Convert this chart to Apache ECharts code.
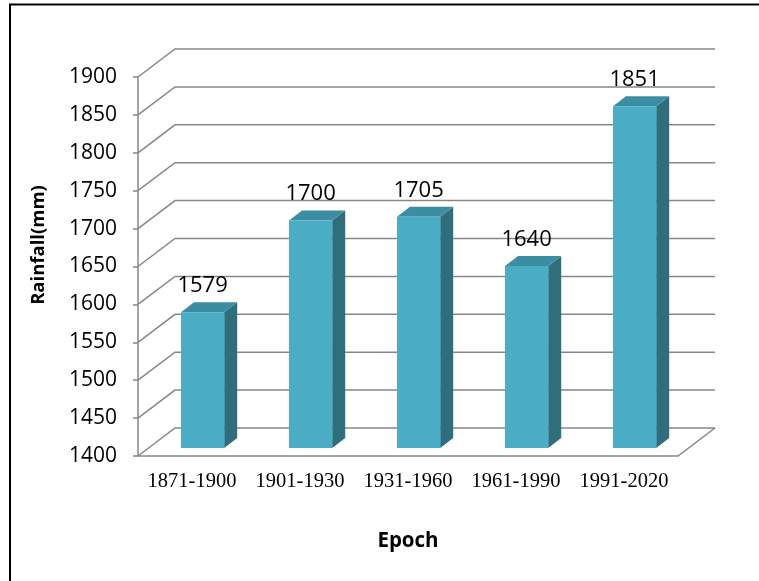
<!DOCTYPE html>
<html>
<head>
<meta charset="utf-8">
<script src="https://cdn.jsdelivr.net/npm/echarts@6/dist/echarts.min.js"></script>
<style>
  html, body { margin: 0; padding: 0; background: #fff; }
  #chart { width: 759px; height: 581px; }
</style>
</head>
<body>
<div id="chart"></div>
<script>
// Mean rainfall per 30-year epoch
const categories = ['1871-1900', '1901-1930', '1931-1960', '1961-1990', '1991-2020'];
const rainfall = [1579, 1700, 1705, 1640, 1851];
const yTicks = [1400, 1450, 1500, 1550, 1600, 1650, 1700, 1750, 1800, 1850, 1900];

const Y_MIN = 1400, Y_MAX = 1900, Y_STEP = 50;

// Oblique 3D projection offsets (pixels)
const WALL_DX = 37, WALL_DY = -28;   // back wall relative to front plane
const ROW_DX = 10.6, ROW_DY = -8;    // bar row relative to front plane
const BAR_DX = 13, BAR_DY = -10;     // bar depth
const BAR_RATIO = 0.4;               // bar width as share of category band

const GRID_COLOR = '#878787';
const FRONT = '#4BACC6', TOP = '#3B8DA2', SIDE = '#2F6E7C';

const chart = echarts.init(document.getElementById('chart'), null, { renderer: 'canvas' });

function renderWalls(params, api) {
  const v = api.value(1);
  const cs = params.coordSys;
  const y = api.coord([0, v])[1];
  const x0 = cs.x, x1 = cs.x + cs.width;
  const style = { stroke: GRID_COLOR, lineWidth: 1.5, fill: null };
  const children = [{
    type: 'polyline',
    shape: { points: [[x0, y], [x0 + WALL_DX, y + WALL_DY], [x1 + WALL_DX, y + WALL_DY]] },
    style
  }];
  if (v === Y_MIN) {
    children.push({
      type: 'polyline',
      shape: { points: [[x0, y], [x1, y], [x1 + WALL_DX, y + WALL_DY]] },
      style
    });
  }
  return { type: 'group', children };
}

function renderBar(params, api) {
  const idx = api.value(0);
  const v = api.value(1);
  const base = api.coord([idx, Y_MIN]);
  const top = api.coord([idx, v]);
  const band = api.size([1, 0])[0];
  const w = band * BAR_RATIO;
  const x0 = base[0] - w / 2 + ROW_DX;
  const x1 = x0 + w;
  const yb = base[1] + ROW_DY;
  const yt = top[1] + ROW_DY;
  return {
    type: 'group',
    children: [
      {
        type: 'polygon',
        shape: { points: [[x1, yt], [x1 + BAR_DX, yt + BAR_DY], [x1 + BAR_DX, yb + BAR_DY], [x1, yb]] },
        style: { fill: SIDE }
      },
      {
        type: 'polygon',
        shape: { points: [[x0, yt], [x0 + BAR_DX, yt + BAR_DY], [x1 + BAR_DX, yt + BAR_DY], [x1, yt]] },
        style: { fill: TOP }
      },
      {
        type: 'rect',
        shape: { x: x0, y: yt, width: w, height: yb - yt },
        style: { fill: FRONT }
      },
      {
        type: 'text',
        z2: 10,
        style: {
          x: x0 + w / 2,
          y: yt - 26.5,
          text: String(v),
          align: 'center',
          verticalAlign: 'middle',
          fill: '#000',
          font: '22px "Open Sans", sans-serif'
        }
      }
    ]
  };
}

chart.setOption({
  animation: false,
  backgroundColor: '#fff',
  grid: { left: 138, right: 81, top: 77, bottom: 125 },
  xAxis: {
    type: 'category',
    data: categories,
    axisLine: { show: false },
    axisTick: { show: false },
    splitLine: { show: false },
    axisLabel: {
      interval: 0,
      hideOverlap: false,
      margin: 15,
      color: '#000',
      fontFamily: '"Liberation Serif", "Times New Roman", serif',
      fontSize: 20.5
    }
  },
  yAxis: {
    type: 'value',
    min: Y_MIN,
    max: Y_MAX,
    interval: Y_STEP,
    splitLine: { show: false },
    axisLine: { show: true, lineStyle: { color: GRID_COLOR, width: 1.5 } },
    axisTick: { show: true, inside: false, length: 5, lineStyle: { color: GRID_COLOR, width: 1.5 } },
    axisLabel: {
      margin: 21,
      color: '#000',
      formatter: v => String(v),
      fontFamily: '"Open Sans", sans-serif',
      fontSize: 21
    }
  },
  graphic: [
    {
      type: 'rect',
      shape: { x: 10, y: 4.5, width: 900, height: 800 },
      style: { fill: null, stroke: '#000', lineWidth: 2 },
      silent: true
    },
    {
      type: 'text',
      x: 38.5, y: 245,
      rotation: Math.PI / 2,
      style: {
        text: 'Rainfall(mm)',
        align: 'center',
        verticalAlign: 'middle',
        fill: '#000',
        font: 'bold 18.5px "Open Sans", sans-serif'
      }
    },
    {
      type: 'text',
      x: 408, y: 541,
      style: {
        text: 'Epoch',
        align: 'center',
        verticalAlign: 'middle',
        fill: '#000',
        font: 'bold 20.5px "Open Sans", sans-serif'
      }
    }
  ],
  series: [
    {
      type: 'custom',
      name: 'walls',
      z: 1,
      silent: true,
      renderItem: renderWalls,
      data: yTicks.map(t => [0, t])
    },
    {
      type: 'custom',
      name: 'Rainfall',
      z: 2,
      renderItem: renderBar,
      data: rainfall.map((v, i) => [i, v])
    }
  ]
});
</script>
</body>
</html>
